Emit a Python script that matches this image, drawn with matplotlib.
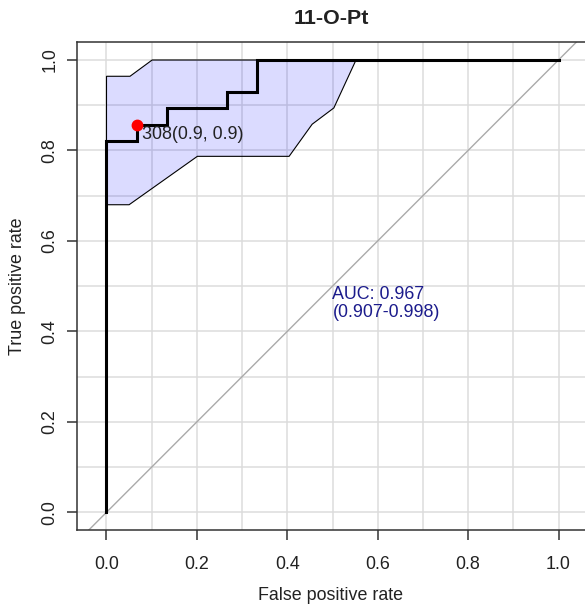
import matplotlib
matplotlib.use('Agg')
import matplotlib.pyplot as plt
import numpy as np

plt.rcParams['font.family'] = ['Liberation Sans', 'DejaVu Sans']

# ROC curve (false positive rate vs true positive rate)
roc_fpr = [0.0, 0.0, 0.067, 0.067, 0.133, 0.133, 0.267, 0.267, 0.333, 0.333, 1.0]
roc_tpr = [0.0, 0.821, 0.821, 0.857, 0.857, 0.893, 0.893, 0.929, 0.929, 1.0, 1.0]

# confidence band of the sensitivity
ci_upper_fpr = [0.0, 0.052, 0.101, 0.552]
ci_upper_tpr = [0.964, 0.964, 1.0, 1.0]
ci_lower_fpr = [0.552, 0.503, 0.455, 0.404, 0.201, 0.050, 0.0]
ci_lower_tpr = [1.0, 0.894, 0.858, 0.787, 0.787, 0.680, 0.680]

# best threshold
best_threshold = 308
best_fpr = 0.067
best_tpr = 0.857

auc = 0.967
auc_ci = (0.907, 0.998)

title = '11-O-Pt'
ticks = [0.0, 0.2, 0.4, 0.6, 0.8, 1.0]
tick_labels = ['0.0', '0.2', '0.4', '0.6', '0.8', '1.0']

fs = 12.9
dark = '#222222'

fig = plt.figure(figsize=(5.85, 6.08), dpi=100)
W, H = 585, 608
x0, x1 = 77.3, 587.7
y_top, y_bot = 41.9, 530.4
ax = fig.add_axes([x0 / W, 1 - y_bot / H, (x1 - x0) / W, (y_bot - y_top) / H])
ax.set_xlim(-0.0646, 1.0646)
ax.set_ylim(-0.04, 1.04)

# grid
for g in np.arange(0, 1.01, 0.1):
    ax.axvline(g, color='#dcdcdc', lw=1.1, zorder=0)
    ax.axhline(g, color='#dcdcdc', lw=1.1, zorder=0)

# confidence band
ax.fill(ci_upper_fpr + ci_lower_fpr, ci_upper_tpr + ci_lower_tpr,
        facecolor=(0, 0, 1, 0.14), edgecolor='black', lw=0.8, zorder=2)

# chance line
ax.axline((0, 0), (1, 1), color='#aaaaaa', lw=1.0, zorder=1)

# ROC
ax.plot(roc_fpr, roc_tpr, color='black', lw=2.2, zorder=3, solid_joinstyle='miter')

ax.plot(best_fpr, best_tpr, 'o', color='red', ms=7.5, zorder=4)
ax.text(best_fpr + 0.011, best_tpr - 0.021,
        f'{best_threshold}({1 - best_fpr:.1f}, {best_tpr:.1f})',
        fontsize=fs, color=dark, ha='left', va='center', zorder=5)

ax.text(0.5, 0.5, f'AUC: {auc:.3f}\n({auc_ci[0]:.3f}-{auc_ci[1]:.3f})',
        fontsize=fs, color='#1c1c8c', ha='left', va='top', linespacing=1.05)

ax.set_xticks(ticks)
ax.set_xticklabels(tick_labels)
ax.set_yticks(ticks)
ax.set_yticklabels(tick_labels, rotation=90, va='center')
ax.tick_params(length=7.5, width=1.1, color='#333333', labelsize=fs,
               labelcolor=dark)
ax.tick_params(axis='x', pad=11)
ax.tick_params(axis='y', pad=6)
for s in ax.spines.values():
    s.set_color('#333333')
    s.set_linewidth(1.1)

fig.text(18 / W, 1 - 286 / H, 'True positive rate', rotation=90,
         fontsize=fs, color=dark, ha='center', va='center')
fig.text(331 / W, 1 - 595.7 / H, 'False positive rate',
         fontsize=fs, color=dark, ha='center', va='center')
fig.text(331 / W, 1 - 19 / H, title, fontsize=fs * 1.2, fontweight='bold',
         color=dark, ha='center', va='center')

fig.savefig('out.png', dpi=100)
